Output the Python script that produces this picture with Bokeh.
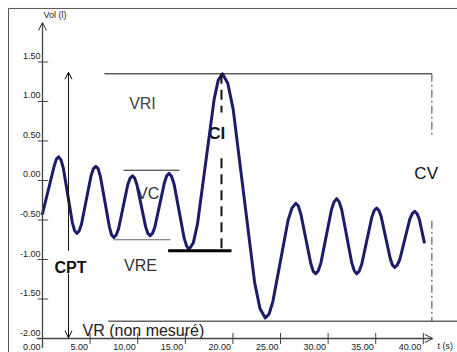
from bokeh.plotting import figure
from bokeh.models import Range1d, Arrow, OpenHead
from bokeh.core.properties import value
from bokeh.embed import file_html
from bokeh.resources import INLINE

# ---- data ----
time_s = [0, 1.22, 1.46, 1.7,
          1.94, 2.18, 3.13, 3.36, 3.6,
          3.85, 4.1, 5.1, 5.35, 5.6,
          5.84, 6.08, 7.03, 7.26, 7.5,
          7.74, 7.99, 8.96, 9.21, 9.45,
          9.68, 9.91, 10.84, 11.07, 11.3,
          11.55, 11.8, 12.8, 13.05, 13.3,
          13.56, 13.83, 14.88, 15.14, 15.4,
          15.84, 16.28, 18.03, 18.46, 18.9,
          19.46, 20.03, 22.28, 22.84, 23.4,
          23.8, 24.2, 25.8, 26.2, 26.6,
          26.86, 27.13, 28.18, 28.44, 28.7,
          28.98, 29.25, 30.35, 30.63, 30.9,
          31.16, 31.43, 32.48, 32.74, 33.0,
          33.26, 33.53, 34.58, 34.84, 35.1,
          35.34, 35.58, 36.53, 36.76, 37.0,
          37.26, 37.53, 38.58, 38.84, 39.1,
          39.34, 39.58, 40.1]
volume_l = [-0.42, 0.18, 0.27, 0.30,
            0.26, 0.16, -0.53, -0.63, -0.67,
            -0.64, -0.55, 0.06, 0.15, 0.18,
            0.15, 0.05, -0.59, -0.69, -0.72,
            -0.69, -0.61, -0.05, 0.03, 0.06,
            0.03, -0.05, -0.59, -0.67, -0.70,
            -0.67, -0.59, -0.03, 0.06, 0.09,
            0.05, -0.05, -0.73, -0.83, -0.87,
            -0.79, -0.55, 1.03, 1.27, 1.35,
            1.23, 0.90, -1.29, -1.62, -1.74,
            -1.69, -1.53, -0.50, -0.35, -0.29,
            -0.32, -0.42, -1.05, -1.15, -1.18,
            -1.14, -1.04, -0.37, -0.27, -0.23,
            -0.27, -0.37, -1.04, -1.14, -1.18,
            -1.15, -1.06, -0.47, -0.38, -0.35,
            -0.38, -0.46, -0.99, -1.07, -1.10,
            -1.07, -1.00, -0.49, -0.42, -0.39,
            -0.42, -0.49, -0.78]

y_ticks = [-2.0, -1.5, -1.0, -0.5, 0.0, 0.5, 1.0, 1.5]
y_tick_labels = ["-2.00", "-1.50", "-1.00", "-0.50", "0.00", "0.50", "1.00", "1.50"]
x_ticks = [0, 5, 10, 15, 20, 25, 30, 35, 40]
x_tick_labels = ["0.00", "5.00", "10.00", "15.00", "20.00", "25.00", "30.00", "35.00", "40.00"]

# annotation levels (litres) and times (s)
vri_level = 1.35
vc_top = 0.13
vc_bottom = -0.75
vre_level = -0.89
vr_level = -1.78
cpt_time = 2.73
ci_time = 18.8
cv_time = 40.9
x_axis_end = 41.0
y_axis_end = 2.0

FONT = value("Liberation Sans")

X0, X1 = -4.412, 43.59
Y0, Y1 = -2.177, 2.278
p = figure(width=457, height=352, x_range=Range1d(X0, X1), y_range=Range1d(Y0, Y1),
           output_backend="svg", toolbar_location=None, min_border=0,
           x_axis_location=None, y_axis_location=None)
p.grid.visible = False
p.outline_line_color = None
p.background_fill_color = "white"
p.border_fill_color = "white"

# picture frame (top and left edges)
fx, fy = -3.571, 2.177
p.segment(x0=[fx, fx], x1=[X1, fx], y0=[fy, fy], y1=[fy, Y0], line_color="#555555", line_width=1)

# axes
p.add_layout(Arrow(end=OpenHead(size=8, line_width=1, line_color="#333333"),
                   x_start=0, y_start=-2.12, x_end=0, y_end=y_axis_end,
                   line_width=1.3, line_color="#444444"))
p.add_layout(Arrow(end=OpenHead(size=8, line_width=1, line_color="#333333"),
                   x_start=-0.6, y_start=-2.0, x_end=x_axis_end, y_end=-2.0,
                   line_width=1.3, line_color="#444444"))
p.segment(x0=[-0.5] * len(y_ticks), x1=[0.6] * len(y_ticks), y0=y_ticks, y1=y_ticks,
          line_color="#444444", line_width=1)
p.segment(x0=x_ticks[1:], x1=x_ticks[1:], y0=[-1.93] * (len(x_ticks) - 1),
          y1=[-2.07] * (len(x_ticks) - 1), line_color="#444444", line_width=1)
p.text(x=[-0.2] * len(y_ticks), y=y_ticks, text=y_tick_labels, text_font=FONT,
       text_font_size=value("9px"), text_align="right", text_baseline="middle",
       y_offset=-6, text_color="#222222")
p.text(x=x_ticks, y=[-2.0] * len(x_ticks), text=x_tick_labels, text_font=FONT,
       text_font_size=value("9px"), text_align="right", text_baseline="middle",
       x_offset=-2, y_offset=8, text_color="#222222")
p.text(x=[0.1], y=[2.09], text=["Vol (l)"], text_font=FONT, text_font_size=value("9px"),
       text_align="left", text_baseline="middle", text_color="#222222")
p.text(x=[41.5], y=[-2.09], text=["t (s)"], text_font=FONT, text_font_size=value("9px"),
       text_align="left", text_baseline="middle", text_color="#222222")

# VR line
p.segment(x0=[6.9], x1=[X1], y0=[vr_level], y1=[vr_level], line_color="#666666", line_width=1.5)

# VRI top line
p.segment(x0=[6.5], x1=[cv_time], y0=[vri_level], y1=[vri_level], line_color="#111111", line_width=1)

# VC lines
p.segment(x0=[8.5], x1=[14.4], y0=[vc_top], y1=[vc_top], line_color="#222222", line_width=1)
p.segment(x0=[7.45], x1=[13.45], y0=[vc_bottom], y1=[vc_bottom], line_color="#666666", line_width=1.2)

# CV dash-dot
p.segment(x0=[cv_time, cv_time], x1=[cv_time, cv_time], y0=[vri_level, -0.51], y1=[0.54, vr_level],
          line_color="#444444", line_width=1, line_dash="8 3 2 3")

# CPT arrows
p.add_layout(Arrow(end=OpenHead(size=7, line_width=1), x_start=cpt_time, y_start=vre_level,
                   x_end=cpt_time, y_end=1.37, line_width=1, line_color="#111111"))
p.add_layout(Arrow(end=OpenHead(size=7, line_width=1), x_start=cpt_time, y_start=-1.18,
                   x_end=cpt_time, y_end=-1.99, line_width=1, line_color="#111111"))

# labels
p.text(x=[10.5], y=[0.97], text=["VRI"], text_font=FONT, text_font_size=value("16px"),
       text_align="center", text_baseline="middle", text_color="#444444")
p.text(x=[11.1], y=[-0.16], text=["VC"], text_font=FONT, text_font_size=value("16px"),
       text_align="center", text_baseline="middle", text_color="#333333")
p.text(x=[10.3], y=[-1.08], text=["VRE"], text_font=FONT, text_font_size=value("16px"),
       text_align="center", text_baseline="middle", text_color="#333333")
p.text(x=[2.94], y=[-1.10], text=["CPT"], text_font=FONT, text_font_size=value("16px"),
       text_font_style="bold", text_align="center", text_baseline="middle", text_color="#111111")
p.text(x=[18.3], y=[0.59], text=["CI"], text_font=FONT, text_font_size=value("17px"),
       text_font_style="bold", text_align="center", text_baseline="middle", text_color="#111111")
p.text(x=[40.3], y=[0.09], text=["CV"], text_font=FONT, text_font_size=value("17px"),
       text_align="center", text_baseline="middle", text_color="#111111")
p.text(x=[4.2], y=[-1.90], text=["VR (non mesuré)"], text_font=FONT, text_font_size=value("16px"),
       text_align="left", text_baseline="middle", text_color="#222222")

# spirogram curve
p.line(x=time_s, y=volume_l, line_color="#1c1c6b", line_width=3, line_join="round", line_cap="round")

# CI dashed and VRE thick line
p.segment(x0=[ci_time, ci_time], x1=[ci_time, ci_time], y0=[vri_level, 0.28], y1=[0.86, vre_level],
          line_color="#111111", line_width=2, line_dash="10 6")
p.segment(x0=[13.2], x1=[19.85], y0=[vre_level], y1=[vre_level], line_color="#000000", line_width=3)

open("out.html", "w").write(file_html(p, INLINE))
